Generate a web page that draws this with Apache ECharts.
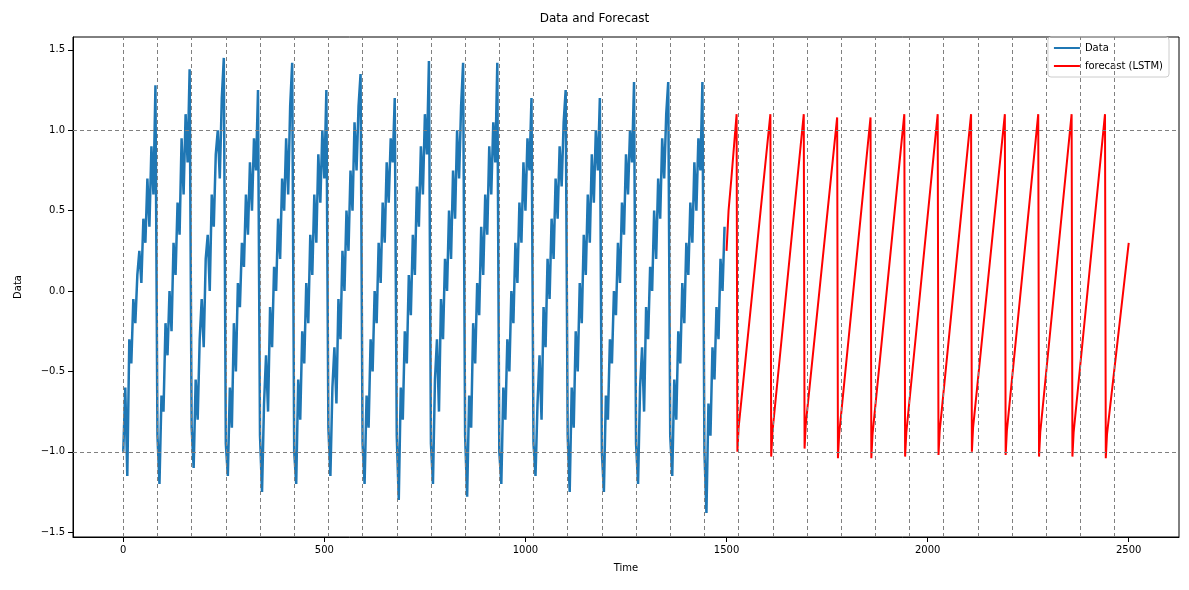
<!DOCTYPE html>
<html>
<head>
<meta charset="utf-8">
<script src="https://cdn.jsdelivr.net/npm/echarts@6/dist/echarts.min.js"></script>
<style>html,body{margin:0;padding:0;background:#fff}#chart{width:1189px;height:590px}</style>
</head>
<body>
<div id="chart"></div>
<script>
// observed data, one row per cycle of 85 steps, sampled every 5
var period = 85;
var sampleStep = 5;
var dataCycles = [
	[-1.0,-0.6,-1.15,-0.3,-0.45,-0.05,-0.2,0.1,0.25,0.05,0.45,0.3,0.7,0.4,0.9,0.6,1.28],
	[-0.9,-1.2,-0.65,-0.75,-0.2,-0.4,0.0,-0.25,0.3,0.1,0.55,0.35,0.95,0.6,1.1,0.8,1.38],
	[-0.85,-1.1,-0.55,-0.8,-0.3,-0.05,-0.35,0.2,0.35,0.0,0.6,0.4,0.85,1.0,0.7,1.2,1.45],
	[-0.95,-1.15,-0.6,-0.85,-0.2,-0.5,0.05,-0.1,0.3,0.15,0.6,0.35,0.8,0.5,0.95,0.75,1.25],
	[-0.9,-1.25,-0.7,-0.4,-0.75,-0.1,-0.35,0.15,0.0,0.45,0.2,0.7,0.5,0.95,0.6,1.15,1.42],
	[-1.0,-1.2,-0.55,-0.8,-0.25,-0.45,0.05,-0.2,0.35,0.1,0.6,0.3,0.85,0.55,1.0,0.7,1.25],
	[-0.85,-1.15,-0.6,-0.35,-0.7,-0.05,-0.3,0.25,0.0,0.5,0.25,0.75,0.5,1.05,0.75,1.15,1.35],
	[-0.95,-1.2,-0.65,-0.85,-0.3,-0.5,0.0,-0.2,0.3,0.05,0.55,0.3,0.8,0.55,0.95,0.8,1.2],
	[-0.9,-1.3,-0.6,-0.8,-0.25,-0.45,0.1,-0.15,0.35,0.1,0.65,0.4,0.9,0.6,1.1,0.85,1.43],
	[-0.95,-1.2,-0.55,-0.3,-0.75,-0.05,-0.3,0.2,0.0,0.5,0.2,0.75,0.45,1.0,0.7,1.15,1.42],
	[-0.9,-1.28,-0.65,-0.85,-0.2,-0.45,0.05,-0.15,0.4,0.1,0.6,0.35,0.9,0.6,1.05,0.8,1.42],
	[-1.0,-1.2,-0.6,-0.8,-0.3,-0.5,0.0,-0.2,0.3,0.05,0.55,0.3,0.8,0.5,0.95,0.75,1.2],
	[-0.95,-1.15,-0.7,-0.4,-0.8,-0.1,-0.35,0.2,-0.05,0.45,0.2,0.7,0.45,0.9,0.65,1.05,1.25],
	[-0.9,-1.25,-0.6,-0.85,-0.25,-0.5,0.05,-0.2,0.35,0.1,0.6,0.3,0.85,0.55,1.0,0.75,1.2],
	[-1.0,-1.25,-0.65,-0.8,-0.3,-0.45,0.0,-0.15,0.3,0.05,0.55,0.35,0.85,0.6,1.0,0.8,1.3],
	[-0.95,-1.2,-0.6,-0.35,-0.75,-0.1,-0.3,0.15,0.0,0.5,0.2,0.7,0.45,0.95,0.7,1.1,1.3],
	[-0.9,-1.15,-0.55,-0.8,-0.25,-0.45,0.05,-0.2,0.3,0.1,0.55,0.3,0.8,0.5,0.95,0.75,1.3],
	[-1.0,-1.38,-0.7,-0.9,-0.35,-0.55,-0.1,-0.3,0.2,0.0,0.4]
];

// forecast (LSTM): start segment, then drop / trough / peak per cycle
var forecastStart = [[1500, 0.25], [1505, 0.5], [1512, 0.7], [1525, 1.1]];
var forecastDropX = [1527,1611,1694,1777,1860,1944,2027,2110,2194,2277,2360,2443];
var forecastTroughY = [-1.0,-1.03,-0.98,-1.04,-1.04,-1.03,-1.02,-1.0,-1.02,-1.03,-1.03,-1.04];
var forecastPeakY = [1.1,1.1,1.08,1.08,1.1,1.1,1.1,1.1,1.1,1.1,1.1];
var forecastEnd = [2500, 0.3];

var xTicks = [0, 500, 1000, 1500, 2000, 2500];
var yTicks = [-1.5, -1.0, -0.5, 0.0, 0.5, 1.0, 1.5];
var hLines = [-1, 1];
var vLines = [];
for (var k = 0; k <= 29; k++) { vLines.push(k * period); }

var dataPoints = [];
for (var c = 0; c < dataCycles.length; c++) {
	for (var i = 0; i < dataCycles[c].length; i++) {
		dataPoints.push([c * period + i * sampleStep, dataCycles[c][i]]);
	}
}

var forecastPoints = forecastStart.slice();
for (var j = 0; j < forecastDropX.length; j++) {
	forecastPoints.push([forecastDropX[j], forecastTroughY[j]]);
	forecastPoints.push([forecastDropX[j] + 3, forecastTroughY[j] + 0.15]);
	if (j < forecastPeakY.length) {
		forecastPoints.push([forecastDropX[j + 1] - 2, forecastPeakY[j]]);
	}
}
forecastPoints.push(forecastEnd);

var markLines = [];
for (var m = 0; m < vLines.length; m++) markLines.push({ xAxis: vLines[m] });
for (var n = 0; n < hLines.length; n++) markLines.push({ yAxis: hLines[n] });

var txt = { fontFamily: 'DejaVu Sans', color: '#000', fontSize: 10 };
var myChart = echarts.init(document.getElementById('chart'));
var option = {
	animation: false,
	title: {
		text: 'Data and Forecast', left: 'center', top: 8,
		textStyle: { fontFamily: 'DejaVu Sans', fontSize: 12, fontWeight: 'normal', color: '#000' }
	},
	legend: {
		right: 20, top: 37, orient: 'vertical', itemWidth: 26, itemHeight: 2, itemGap: 8,
		padding: [6, 6, 6, 6], borderColor: '#ccc', borderWidth: 1, borderRadius: 3,
		textStyle: txt, icon: 'rect',
		data: ['Data', 'forecast (LSTM)']
	},
	grid: { left: 73, right: 10, top: 37, bottom: 53, show: true, borderColor: '#000', borderWidth: 1 },
	xAxis: {
		type: 'value', min: -125, max: 2625,
		name: 'Time', nameLocation: 'middle', nameGap: 26, nameTextStyle: txt,
		axisLine: { onZero: false, lineStyle: { color: '#000' } },
		axisTick: { customValues: xTicks, lineStyle: { color: '#000' } },
		axisLabel: { customValues: xTicks, color: '#000', fontFamily: 'DejaVu Sans', fontSize: 10,
			formatter: function (v) { return String(v); } },
		splitLine: { show: false }
	},
	yAxis: {
		type: 'value', min: -1.53, max: 1.58,
		name: 'Data', nameLocation: 'middle', nameGap: 50, nameTextStyle: txt,
		axisLine: { show: true, onZero: false, lineStyle: { color: '#000' } },
		axisTick: { show: true, customValues: yTicks, lineStyle: { color: '#000' } },
		axisLabel: { customValues: yTicks, color: '#000', fontFamily: 'DejaVu Sans', fontSize: 10,
			formatter: function (v) { return v.toFixed(1).replace('-', '\u2212'); } },
		splitLine: { show: false }
	},
	series: [
		{
			name: 'Data', type: 'line', data: dataPoints, showSymbol: false,
			lineStyle: { color: '#1f77b4', width: 2.5 }, itemStyle: { color: '#1f77b4' },
			markLine: {
				silent: true, symbol: 'none', label: { show: false },
				lineStyle: { color: '#808080', type: [4, 3], width: 1 },
				data: markLines
			}
		},
		{
			name: 'forecast (LSTM)', type: 'line', data: forecastPoints, showSymbol: false,
			lineStyle: { color: '#ff0000', width: 2 }, itemStyle: { color: '#ff0000' }
		}
	]
};
myChart.setOption(option);
</script>
</body>
</html>
